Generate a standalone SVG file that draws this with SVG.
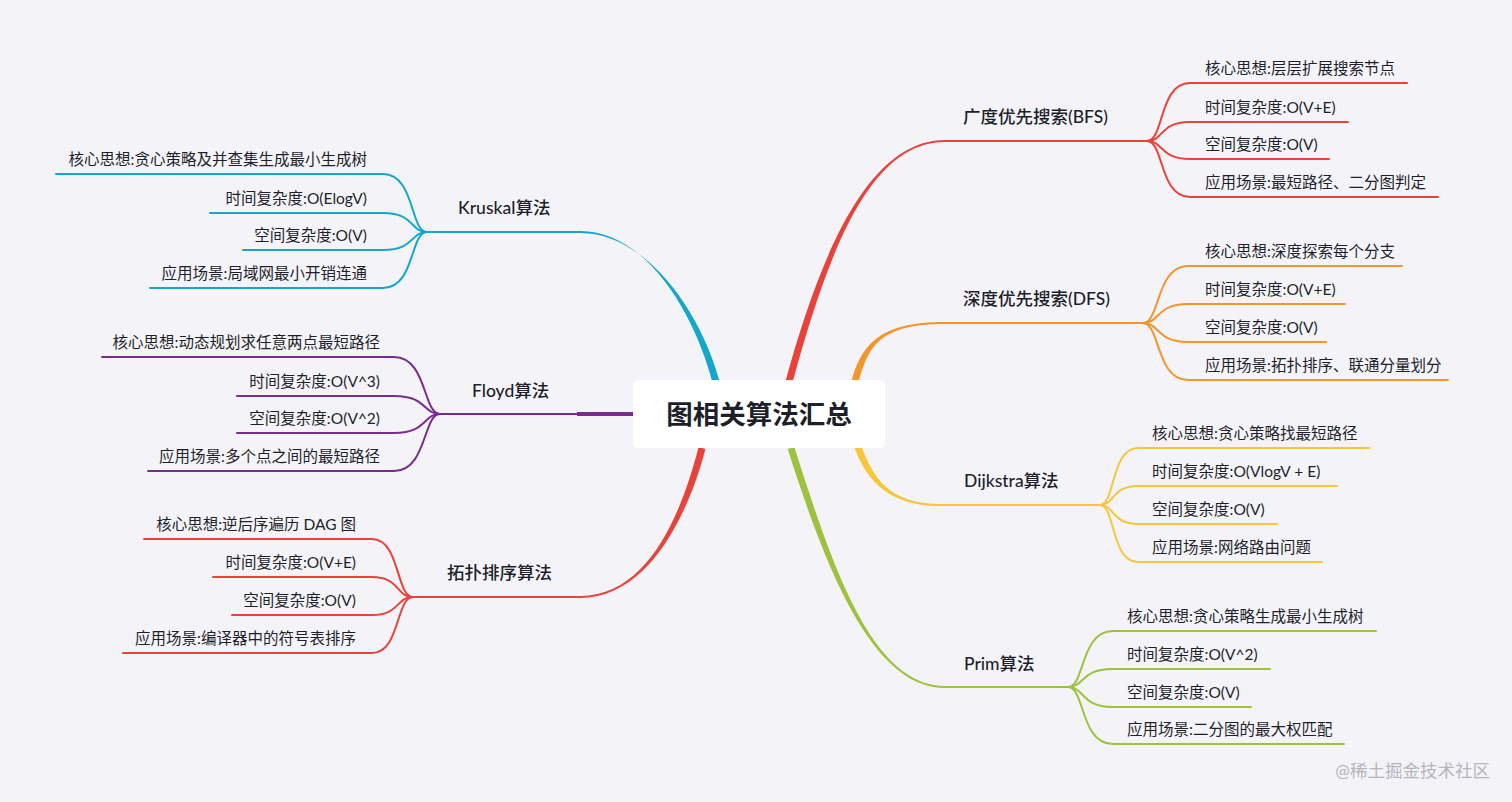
<svg xmlns="http://www.w3.org/2000/svg" width="1512" height="802" viewBox="0 0 1512 802">
<style>
text{font-family:Lato,"Noto Sans CJK SC",sans-serif;fill:#1e1f2b}
.leaf{font-size:15.5px}
.main{font-size:17.5px;font-weight:500}
.c{fill:none;stroke-width:2;stroke-linecap:round}
.red{stroke:#e9423a}.redf{fill:#e9423a}
.org{stroke:#f4952b}.orgf{fill:#f4952b}
.yel{stroke:#f8c63a}.yelf{fill:#f8c63a}
.grn{stroke:#9cc23f}.grnf{fill:#9cc23f}
.blu{stroke:#14a6cb}.bluf{fill:#14a6cb}
.pur{stroke:#7b2b8e}.purf{fill:#7b2b8e}
</style>
<rect width="1512" height="802" fill="#f4f4f8"/>
<g id="connectors">
  <!-- main tapered branches -->
  <path class="redf" d="M785.6,381.1 C821.6,249.1 870,140 945,140 L945,142 C870,142 828.4,250.9 792.4,382.9 Z"/>
  <path class="c red" d="M945,141 L1147,141"/>
  <path class="orgf" d="M851.6,381.1 C861.6,344.1 880,322 945,322 L945,324 C880,324 868.4,345.9 858.4,382.9 Z"/>
  <path class="c org" d="M945,323 L1143,323"/>
  <path class="yelf" d="M854.7,448.2 C866.7,481.2 890,506 940,506 L940,504 C890,504 873.3,478.8 861.3,445.8 Z"/>
  <path class="c yel" d="M940,505 L1100,505"/>
  <path class="grnf" d="M787.7,449.1 C823.7,561.1 870,688 945,688 L945,686 C870,686 830.3,558.9 794.3,446.9 Z"/>
  <path class="c grn" d="M945,687 L1068,687"/>
  <path class="bluf" d="M712.6,382.9 C696.6,320.9 650,231 580,231 L580,233 C650,233 703.4,319.1 719.4,381.1 Z"/>
  <path class="c blu" d="M580,232 L427,232"/>
  <path class="redf" d="M698.6,447.1 C682.6,509.1 650,596 580,596 L580,598 C650,598 689.4,510.9 705.4,448.9 Z"/>
  <path class="c red" d="M580,597 L413,597"/>
  <path d="M577,414 L640,414" stroke="#7b2b8e" stroke-width="4" fill="none"/>
  <path class="c pur" d="M577,414 L440,414"/>
  <!-- BFS leaves -->
  <path class="c red" d="M1147,141 C1164,141 1159,83 1190,83 L1407,83"/>
  <path class="c red" d="M1147,141 C1164,141 1159,122 1190,122 L1348,122"/>
  <path class="c red" d="M1147,141 C1164,141 1159,159 1190,159 L1329,159"/>
  <path class="c red" d="M1147,141 C1164,141 1159,197 1190,197 L1438,197"/>
  <!-- DFS leaves -->
  <path class="c org" d="M1143,323 C1160,323 1156,266 1188,266 L1402,266"/>
  <path class="c org" d="M1143,323 C1160,323 1156,304 1188,304 L1345,304"/>
  <path class="c org" d="M1143,323 C1160,323 1156,342 1188,342 L1326,342"/>
  <path class="c org" d="M1143,323 C1160,323 1156,380 1188,380 L1448,380"/>
  <!-- Dijkstra leaves -->
  <path class="c yel" d="M1100,505 C1115,505 1111,448 1138,448 L1369,448"/>
  <path class="c yel" d="M1100,505 C1115,505 1111,486 1138,486 L1337,486"/>
  <path class="c yel" d="M1100,505 C1115,505 1111,524 1138,524 L1277,524"/>
  <path class="c yel" d="M1100,505 C1115,505 1111,562 1138,562 L1322,562"/>
  <!-- Prim leaves -->
  <path class="c grn" d="M1068,687 C1085,687 1080,631 1113,631 L1376,631"/>
  <path class="c grn" d="M1068,687 C1085,687 1080,669 1113,669 L1270,669"/>
  <path class="c grn" d="M1068,687 C1085,687 1080,707 1113,707 L1251,707"/>
  <path class="c grn" d="M1068,687 C1085,687 1080,744 1113,744 L1344,744"/>
  <!-- Kruskal leaves -->
  <path class="c blu" d="M427,232 C410,232 415,174 383,174 L56,174"/>
  <path class="c blu" d="M427,232 C410,232 415,213 383,213 L210,213"/>
  <path class="c blu" d="M427,232 C410,232 415,250 383,250 L243,250"/>
  <path class="c blu" d="M427,232 C410,232 415,288 383,288 L150,288"/>
  <!-- Floyd leaves -->
  <path class="c pur" d="M440,414 C423,414 427,357 394,357 L102,357"/>
  <path class="c pur" d="M440,414 C423,414 427,396 394,396 L237,396"/>
  <path class="c pur" d="M440,414 C423,414 427,433 394,433 L237,433"/>
  <path class="c pur" d="M440,414 C423,414 427,471 394,471 L148,471"/>
  <!-- Topo leaves -->
  <path class="c red" d="M413,597 C396,597 400,539 372,539 L144,539"/>
  <path class="c red" d="M413,597 C396,597 400,577 372,577 L213,577"/>
  <path class="c red" d="M413,597 C396,597 400,615 372,615 L232,615"/>
  <path class="c red" d="M413,597 C396,597 400,653 372,653 L123,653"/>
</g>
<g id="center">
  <rect x="633" y="380" width="252" height="68" rx="6" fill="#ffffff"/>
  <text x="759" y="424" text-anchor="middle" font-size="26.5" font-weight="bold">图相关算法汇总</text>
</g>
<g id="bfs">
  <text class="main" x="963" y="123">广度优先搜索(BFS)</text>
  <text class="leaf" x="1205" y="74">核心思想:层层扩展搜索节点</text>
  <text class="leaf" x="1205" y="113">时间复杂度:O(V+E)</text>
  <text class="leaf" x="1205" y="150">空间复杂度:O(V)</text>
  <text class="leaf" x="1205" y="188">应用场景:最短路径、二分图判定</text>
</g>
<g id="dfs">
  <text class="main" x="963" y="305">深度优先搜索(DFS)</text>
  <text class="leaf" x="1205" y="257">核心思想:深度探索每个分支</text>
  <text class="leaf" x="1205" y="295">时间复杂度:O(V+E)</text>
  <text class="leaf" x="1205" y="333">空间复杂度:O(V)</text>
  <text class="leaf" x="1205" y="371">应用场景:拓扑排序、联通分量划分</text>
</g>
<g id="dijkstra">
  <text class="main" x="964" y="487">Dijkstra算法</text>
  <text class="leaf" x="1152" y="439">核心思想:贪心策略找最短路径</text>
  <text class="leaf" x="1152" y="477">时间复杂度:O(VlogV + E)</text>
  <text class="leaf" x="1152" y="515">空间复杂度:O(V)</text>
  <text class="leaf" x="1152" y="553">应用场景:网络路由问题</text>
</g>
<g id="prim">
  <text class="main" x="964" y="670">Prim算法</text>
  <text class="leaf" x="1127" y="622">核心思想:贪心策略生成最小生成树</text>
  <text class="leaf" x="1127" y="660">时间复杂度:O(V^2)</text>
  <text class="leaf" x="1127" y="698">空间复杂度:O(V)</text>
  <text class="leaf" x="1127" y="735">应用场景:二分图的最大权匹配</text>
</g>
<g id="kruskal">
  <text class="main" x="458" y="214">Kruskal算法</text>
  <g text-anchor="end">
  <text class="leaf" x="367" y="165">核心思想:贪心策略及并查集生成最小生成树</text>
  <text class="leaf" x="367" y="204">时间复杂度:O(ElogV)</text>
  <text class="leaf" x="367" y="241">空间复杂度:O(V)</text>
  <text class="leaf" x="367" y="279">应用场景:局域网最小开销连通</text>
  </g>
</g>
<g id="floyd">
  <text class="main" x="472" y="397">Floyd算法</text>
  <g text-anchor="end">
  <text class="leaf" x="380" y="348">核心思想:动态规划求任意两点最短路径</text>
  <text class="leaf" x="380" y="387">时间复杂度:O(V^3)</text>
  <text class="leaf" x="380" y="424">空间复杂度:O(V^2)</text>
  <text class="leaf" x="380" y="462">应用场景:多个点之间的最短路径</text>
  </g>
</g>
<g id="topo">
  <text class="main" x="447" y="579">拓扑排序算法</text>
  <g text-anchor="end">
  <text class="leaf" x="356" y="530">核心思想:逆后序遍历 DAG 图</text>
  <text class="leaf" x="356" y="568">时间复杂度:O(V+E)</text>
  <text class="leaf" x="356" y="606">空间复杂度:O(V)</text>
  <text class="leaf" x="356" y="644">应用场景:编译器中的符号表排序</text>
  </g>
</g>
<text x="1490" y="777" text-anchor="end" font-size="17.5" style="fill:#b4b4bd">@稀土掘金技术社区</text>
</svg>
